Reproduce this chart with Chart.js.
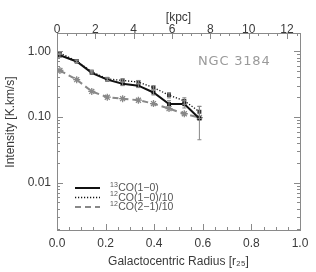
<!DOCTYPE html>
<html><head><meta charset="utf-8">
<script src="https://cdn.jsdelivr.net/npm/chart.js@4/dist/chart.umd.min.js"></script>
<style>html,body{margin:0;padding:0;background:#fff}#wrap{width:316px;height:272px}</style>
</head><body><div id="wrap"><canvas id="c" width="316" height="272"></canvas></div>
<script>
const radius = [0.012, 0.081, 0.143, 0.207, 0.270, 0.335, 0.397, 0.461, 0.524, 0.586];
const co13_10 = [0.87, 0.70, 0.47, 0.37, 0.32, 0.30, 0.236, 0.157, 0.157, 0.095];
const co12_10 = [0.94, 0.71, 0.49, 0.38, 0.36, 0.34, 0.28, 0.215, 0.176, 0.12];
const co12_21 = [0.51, 0.37, 0.245, 0.20, 0.19, 0.18, 0.16, 0.134, 0.112, 0.098];
const co13_err = [0.06, 0.03, 0.02, 0.02, 0.02, 0.02, 0.02, 0.02, 0.02, 0.05];
const co12_err = [0.05, 0.03, 0.02, 0.02, 0.02, 0.02, 0.02, 0.02, 0.02, 0.025];
const xTicks = [0, 0.2, 0.4, 0.6, 0.8, 1.0];
const kpcTicks = [0, 2, 4, 6, 8, 10, 12];
const yTicks = [0.01, 0.1, 1];
const kpcMax = 12.68;
const legendLabels = [["13", "CO(1\u22120)"], ["12", "CO(1\u22120)/10"], ["12", "CO(2\u22121)/10"]];
const galaxyName = "NGC 3184";

const pts = arr => arr.map((v, i) => ({x: radius[i], y: v}));
const AX = '#8a8a8a', TXT = '#3a3a3a';
const FONT = "'Liberation Sans', Arial, sans-serif";
const YMIN = 0.0019, YMAX = 1.9;

const deco = {
  id: 'deco',
  afterDatasetsDraw(chart) {
    const ctx = chart.ctx;
    const xs = chart.scales.x, ys = chart.scales.y;
    ctx.save();
    ctx.strokeStyle = '#888'; ctx.lineWidth = 1;
    const eb = (vals, errs) => vals.forEach((v, i) => {
      const px = xs.getPixelForValue(radius[i]);
      const p1 = ys.getPixelForValue(v + errs[i]), p2 = ys.getPixelForValue(Math.max(v - errs[i], 0.003));
      ctx.beginPath(); ctx.moveTo(px, p1); ctx.lineTo(px, p2);
      ctx.moveTo(px - 2, p1); ctx.lineTo(px + 2, p1); ctx.moveTo(px - 2, p2); ctx.lineTo(px + 2, p2); ctx.stroke();
    });
    eb(co13_10, co13_err); eb(co12_10, co12_err);
    ctx.restore();
  },
  afterDraw(chart) {
    const ctx = chart.ctx, a = chart.chartArea;
    const xs = chart.scales.x, x2 = chart.scales.x2, ys = chart.scales.y;
    ctx.save();
    ctx.strokeStyle = AX; ctx.lineWidth = 1;
    ctx.strokeRect(Math.round(a.left) + 0.5, Math.round(a.top) + 0.5, Math.round(a.right - a.left), Math.round(a.bottom - a.top));
    ctx.beginPath();
    for (let k = 0; k <= 20; k++) {
      const v = k * 0.05, px = Math.round(xs.getPixelForValue(v)) + 0.5, L = (k % 4 === 0) ? 6 : 3;
      ctx.moveTo(px, a.bottom); ctx.lineTo(px, a.bottom - L);
    }
    for (let k = 0; k <= 25; k++) {
      const v = k * 0.5; if (v > kpcMax) break;
      const px = Math.round(x2.getPixelForValue(v)) + 0.5, L = (k % 4 === 0) ? 6 : 3;
      ctx.moveTo(px, a.top); ctx.lineTo(px, a.top + L);
    }
    for (let e = -3; e <= 0; e++) {
      for (let m = 1; m <= 9; m++) {
        const v = m * Math.pow(10, e); if (v < YMIN || v > YMAX) continue;
        const py = Math.round(ys.getPixelForValue(v)) + 0.5, L = m === 1 ? 6 : 3;
        ctx.moveTo(a.left, py); ctx.lineTo(a.left + L, py);
        ctx.moveTo(a.right, py); ctx.lineTo(a.right - L, py);
      }
    }
    ctx.stroke();
    ctx.fillStyle = TXT; ctx.font = "12px " + FONT; ctx.textAlign = 'center'; ctx.textBaseline = 'middle';
    ctx.translate(11, 122); ctx.rotate(-Math.PI / 2); ctx.fillText("Intensity [K.km/s]", 0, 0);
    ctx.setTransform(1, 0, 0, 1, 0, 0);
    ctx.fillStyle = '#9a9a9a'; ctx.font = "13px 'DejaVu Sans', sans-serif"; ctx.textAlign = 'left';
    try { ctx.letterSpacing = '0.8px'; } catch (e) {}
    ctx.fillText(galaxyName, 198, 62);
    try { ctx.letterSpacing = '0px'; } catch (e) {}
    const styles = [{c: '#111', w: 2, d: []}, {c: '#111', w: 1.3, d: [1.2, 1.8]}, {c: '#888', w: 2, d: [6, 4]}];
    const rows = [188, 197.5, 207];
    legendLabels.forEach((lab, i) => {
      const s = styles[i], y = rows[i];
      ctx.strokeStyle = s.c; ctx.lineWidth = s.w; ctx.setLineDash(s.d);
      ctx.beginPath(); ctx.moveTo(75, y); ctx.lineTo(100, y); ctx.stroke();
      ctx.setLineDash([]);
      ctx.fillStyle = '#555'; ctx.textAlign = 'left'; ctx.textBaseline = 'middle';
      ctx.font = "7px " + FONT; ctx.fillText(lab[0], 110, y - 3);
      const w = ctx.measureText(lab[0]).width;
      ctx.font = "10.5px " + FONT; ctx.fillText(lab[1], 110 + w + 0.5, y + 0.5);
    });
    ctx.restore();
  }
};

new Chart(document.getElementById('c'), {
  type: 'line',
  data: {
    datasets: [
      {label: '13CO(1-0)', data: pts(co13_10), borderColor: '#111', backgroundColor: '#111', borderWidth: 2,
       pointStyle: 'rect', pointRadius: 2.8, pointBorderWidth: 0, tension: 0},
      {label: '12CO(1-0)/10', data: pts(co12_10), borderColor: '#111', backgroundColor: '#333', borderWidth: 1.3,
       borderDash: [1.2, 1.8], pointStyle: 'rect', pointRadius: 2.8, pointBorderWidth: 0, tension: 0},
      {label: '12CO(2-1)/10', data: pts(co12_21), borderColor: '#888', backgroundColor: '#888', borderWidth: 2,
       borderDash: [6, 4], pointStyle: 'star', pointRadius: 3.5, pointBorderWidth: 1.3, tension: 0}
    ]
  },
  options: {
    responsive: false, animation: false, devicePixelRatio: 1,
    layout: {padding: {left: 0, right: 16, top: 0, bottom: 0}},
    plugins: {legend: {display: false}, tooltip: {enabled: false}},
    scales: {
      x: {type: 'linear', position: 'bottom', min: 0, max: 1,
        afterFit: s => { s.height = 42; },
        afterBuildTicks: s => { s.ticks = xTicks.map(v => ({value: v})); },
        grid: {display: false, drawTicks: false, tickLength: 0}, border: {display: false},
        ticks: {padding: 6, color: TXT, font: {size: 12, family: FONT}, maxRotation: 0, autoSkip: false,
          callback: v => v.toFixed(1)},
        title: {display: true, text: 'Galactocentric Radius [r\u2082\u2085]', color: TXT, font: {size: 12, family: FONT}, padding: {top: 0, bottom: 3}}
      },
      x2: {type: 'linear', position: 'top', min: 0, max: kpcMax,
        afterFit: s => { s.height = 33; },
        afterBuildTicks: s => { s.ticks = kpcTicks.map(v => ({value: v})); },
        grid: {display: false, drawTicks: false, tickLength: 0}, border: {display: false},
        ticks: {padding: -4, color: TXT, font: {size: 12, family: FONT}, maxRotation: 0, autoSkip: false,
          callback: v => String(v)},
        title: {display: true, text: '[kpc]', color: TXT, font: {size: 12, family: FONT}, padding: {top: 10, bottom: 0}}
      },
      y: {type: 'logarithmic', position: 'left', min: YMIN, max: YMAX,
        afterFit: s => { s.width = 57; },
        afterBuildTicks: s => { s.ticks = yTicks.map(v => ({value: v})); },
        grid: {display: false, drawTicks: false, tickLength: 0}, border: {display: false},
        ticks: {padding: 6, color: TXT, font: {size: 12, family: FONT}, autoSkip: false,
          callback: v => Number(v).toFixed(2)}
      }
    }
  },
  plugins: [deco]
});
</script></body></html>
